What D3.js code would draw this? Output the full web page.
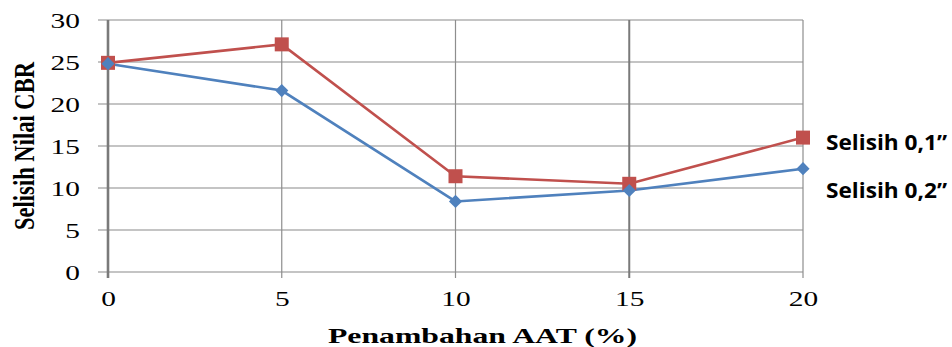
<!DOCTYPE html>
<html>
<head>
<meta charset="utf-8">
<script src="https://cdn.jsdelivr.net/npm/d3@7"></script>
<style>
  body { margin: 0; background: #fff; }
  svg { display: block; }
</style>
</head>
<body>
<div id="chart"></div>
<script>
// Data
const xValues = [0, 5, 10, 15, 20];
const selisih01 = [24.9, 27.1, 11.4, 10.5, 16.0];
const selisih02 = [24.8, 21.6, 8.4, 9.7, 12.3];
const yTicks = [0, 5, 10, 15, 20, 25, 30];
const seriesNames = ['Selisih 0,1\u201D', 'Selisih 0,2\u201D'];

const W = 952, H = 347;
const margin = { top: 20, left: 108, right: 149, bottom: 75 };
const width = W - margin.left - margin.right;
const height = H - margin.top - margin.bottom;

const svg = d3.select('#chart').append('svg')
    .attr('width', W)
    .attr('height', H);

const g = svg.append('g')
    .attr('transform', `translate(${margin.left}, ${margin.top})`);

const xScale = d3.scaleLinear().domain([0, 20]).range([0, width]);
const yScale = d3.scaleLinear().domain([0, 30]).range([height, 0]);

// Horizontal grid lines (run past the axis like tick marks)
g.selectAll('.hgrid').data(yTicks).enter().append('line')
    .attr('x1', -10).attr('x2', width)
    .attr('y1', d => yScale(d)).attr('y2', d => yScale(d))
    .attr('stroke', '#8a8a8a').attr('stroke-width', 1.2);

// Vertical grid lines
g.selectAll('.vgrid').data(xValues).enter().append('line')
    .attr('x1', d => xScale(d)).attr('x2', d => xScale(d))
    .attr('y1', 0).attr('y2', height + 6)
    .attr('stroke', d => d === 0 || d === 15 ? '#7a7a7a' : '#8e8e8e')
    .attr('stroke-width', d => d === 0 ? 2.6 : (d === 15 ? 2 : 1.2));

// Axes (labels only)
const yAxis = g.append('g')
    .call(d3.axisLeft(yScale).tickValues(yTicks).tickSize(0).tickPadding(0));
yAxis.select('.domain').remove();
yAxis.selectAll('text')
    .style('font-family', '"Liberation Serif", "Times New Roman", serif')
    .style('font-size', '21px')
    .attr('fill', '#000')
    .attr('x', -28 / 1.4)
    .attr('dy', '0.34em')
    .attr('transform', 'scale(1.4,1)');

const xAxis = g.append('g')
    .attr('transform', `translate(0, ${height})`)
    .call(d3.axisBottom(xScale).tickValues(xValues).tickSize(0).tickPadding(19));
xAxis.select('.domain').remove();
xAxis.selectAll('text')
    .style('font-family', '"Liberation Serif", "Times New Roman", serif')
    .style('font-size', '21px')
    .attr('fill', '#000')
    .attr('transform', 'scale(1.4,1)');

// Axis titles
svg.append('text')
    .attr('x', 328).attr('y', 343)
    .attr('textLength', 309)
    .attr('lengthAdjust', 'spacingAndGlyphs')
    .style('font-family', '"Liberation Serif", "Times New Roman", serif')
    .style('font-weight', 'bold')
    .style('font-size', '22px')
    .text('Penambahan AAT (%)');

svg.append('text')
    .attr('transform', 'translate(34, 230) rotate(-90)')
    .attr('textLength', 168)
    .attr('lengthAdjust', 'spacingAndGlyphs')
    .style('font-family', '"Liberation Serif", "Times New Roman", serif')
    .style('font-weight', 'bold')
    .style('font-size', '30px')
    .text('Selisih Nilai CBR');

// Series lines
const line = d3.line()
    .x((d, i) => xScale(xValues[i]))
    .y(d => yScale(d));

g.append('path').datum(selisih02)
    .attr('d', line)
    .attr('fill', 'none')
    .attr('stroke', '#4F81BD')
    .attr('stroke-width', 2.6);

g.append('path').datum(selisih01)
    .attr('d', line)
    .attr('fill', 'none')
    .attr('stroke', '#C0504D')
    .attr('stroke-width', 2.6);

// Markers
g.selectAll('.m01').data(selisih01).enter().append('rect')
    .attr('x', (d, i) => xScale(xValues[i]) - 7)
    .attr('y', d => yScale(d) - 7)
    .attr('width', 14).attr('height', 14)
    .attr('fill', '#C0504D');

g.selectAll('.m02').data(selisih02).enter().append('path')
    .attr('d', d3.symbol().type(d3.symbolDiamond2).size(110))
    .attr('transform', (d, i) => `translate(${xScale(xValues[i])}, ${yScale(d)})`)
    .attr('fill', '#4F81BD');

// Legend labels
svg.selectAll('.legend').data(seriesNames).enter().append('text')
    .attr('x', 826)
    .attr('y', (d, i) => 150 + i * 48)
    .attr('textLength', 121)
    .attr('lengthAdjust', 'spacingAndGlyphs')
    .style('font-family', '"Open Sans", "DejaVu Sans", sans-serif')
    .style('font-weight', 'bold')
    .style('font-size', '21px')
    .attr('fill', '#000')
    .text(d => d);
</script>
</body>
</html>
